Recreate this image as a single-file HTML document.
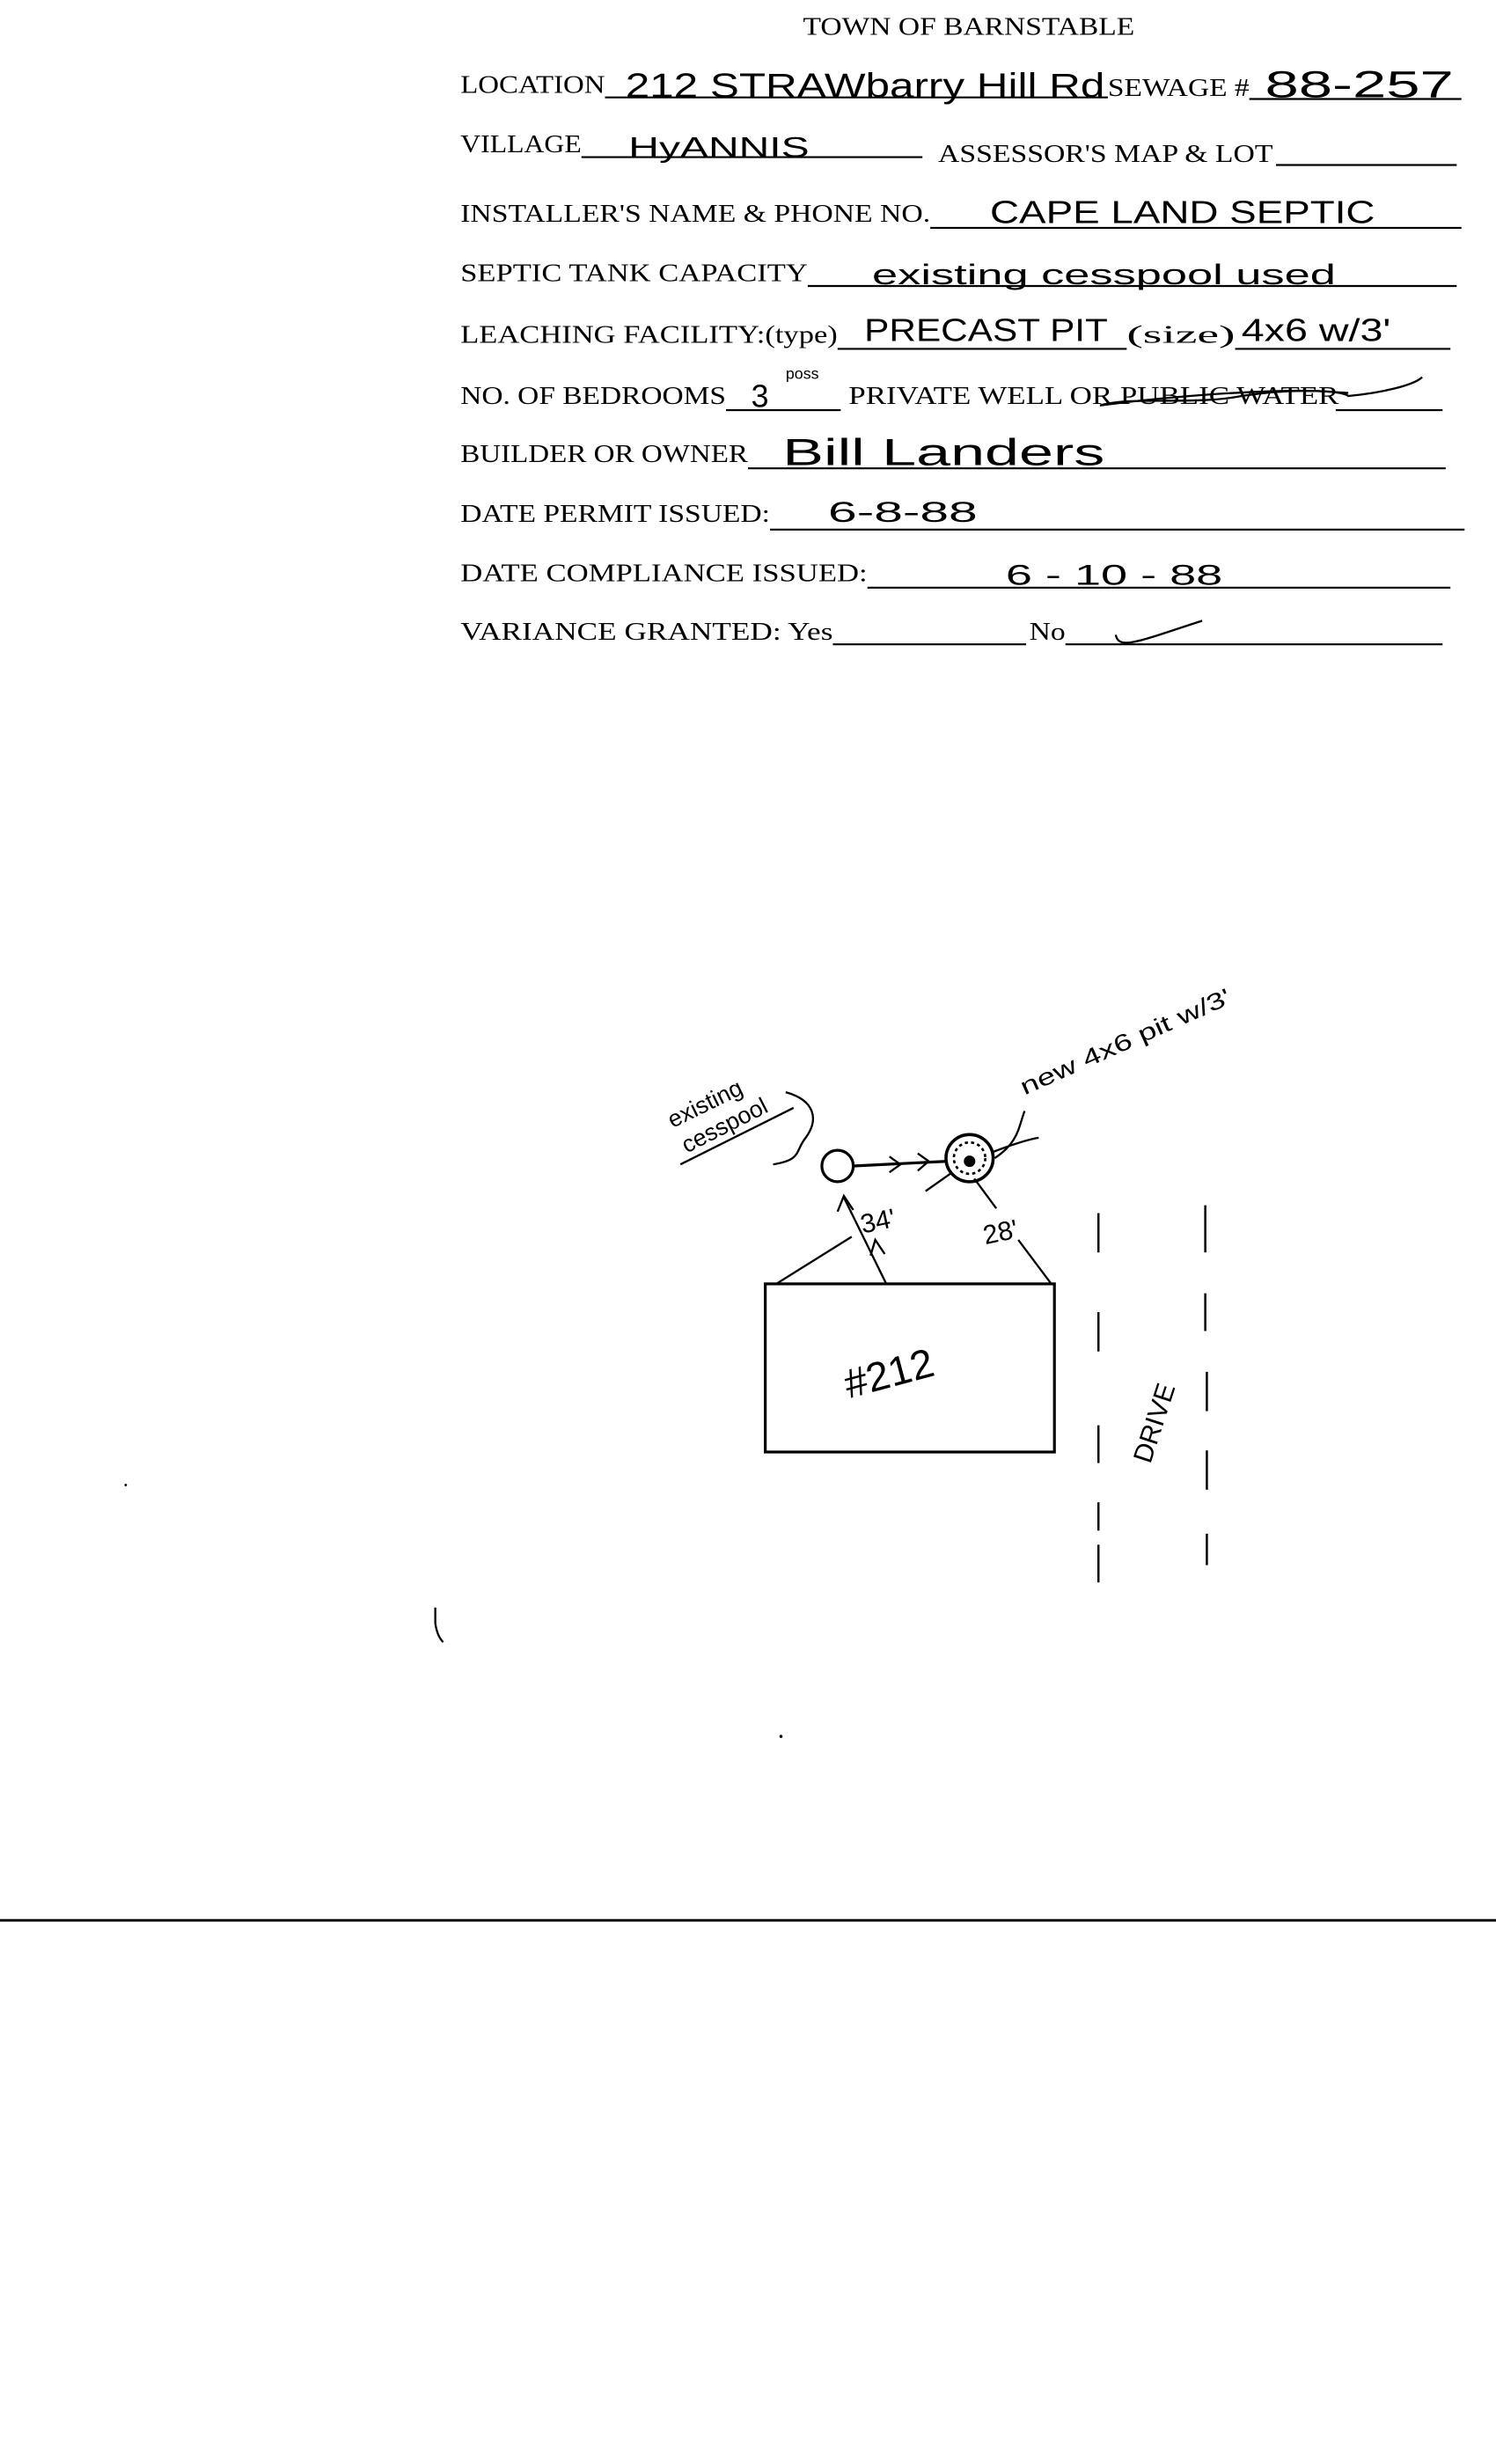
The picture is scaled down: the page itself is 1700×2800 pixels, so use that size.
<!DOCTYPE html>
<html><head><meta charset="utf-8"><style>
html,body{margin:0;padding:0;background:#fff;}
svg{display:block}
.l{font-family:"Liberation Serif",serif;font-size:16px;fill:#000}
.h{font-family:"Liberation Sans",sans-serif;font-weight:300;fill:#000;font-size:17px}
</style></head><body>
<svg width="1700" height="2800" viewBox="0 0 952 1568" preserveAspectRatio="none" xmlns="http://www.w3.org/2000/svg">
<g stroke="#000" stroke-width="1.2" fill="none">
<line x1="385" y1="62" x2="705" y2="62"/><line x1="795" y1="63" x2="930" y2="63"/>
<line x1="370" y1="100" x2="587" y2="100"/><line x1="812" y1="105" x2="927" y2="105"/>
<line x1="592" y1="145" x2="930" y2="145"/>
<line x1="514" y1="182" x2="927" y2="182"/>
<line x1="533" y1="222" x2="717" y2="222"/><line x1="786" y1="222" x2="923" y2="222"/>
<line x1="462" y1="261" x2="535" y2="261"/><line x1="850" y1="261" x2="918" y2="261"/>
<line x1="476" y1="298" x2="920" y2="298"/>
<line x1="490" y1="337" x2="932" y2="337"/>
<line x1="552" y1="374" x2="923" y2="374"/>
<line x1="530" y1="410" x2="653" y2="410"/><line x1="678" y1="410" x2="918" y2="410"/>
<line x1="0" y1="1222" x2="952" y2="1222" stroke-width="1.6"/>
</g>
<text class="l" x="511" y="22" textLength="211" lengthAdjust="spacingAndGlyphs">TOWN OF BARNSTABLE</text>
<text class="l" x="293" y="59" textLength="92" lengthAdjust="spacingAndGlyphs">LOCATION</text>
<text class="l" x="705" y="61" textLength="90" lengthAdjust="spacingAndGlyphs">SEWAGE #</text>
<text class="l" x="293" y="97" textLength="77" lengthAdjust="spacingAndGlyphs">VILLAGE</text>
<text class="l" x="597" y="103" textLength="213" lengthAdjust="spacingAndGlyphs">ASSESSOR'S  MAP &amp; LOT</text>
<text class="l" x="293" y="141" textLength="299" lengthAdjust="spacingAndGlyphs">INSTALLER'S NAME &amp; PHONE NO.</text>
<text class="l" x="293" y="179" textLength="221" lengthAdjust="spacingAndGlyphs">SEPTIC TANK CAPACITY</text>
<text class="l" x="293" y="218" textLength="240" lengthAdjust="spacingAndGlyphs">LEACHING FACILITY:(type)</text>
<text class="l" x="717" y="218" textLength="69" lengthAdjust="spacingAndGlyphs">(size)</text>
<text class="l" x="293" y="257" textLength="169" lengthAdjust="spacingAndGlyphs">NO. OF BEDROOMS</text>
<text class="l" x="540" y="257" textLength="312" lengthAdjust="spacingAndGlyphs">PRIVATE WELL OR PUBLIC WATER</text>
<text class="l" x="293" y="294" textLength="183" lengthAdjust="spacingAndGlyphs">BUILDER OR OWNER</text>
<text class="l" x="293" y="332" textLength="197" lengthAdjust="spacingAndGlyphs">DATE PERMIT ISSUED:</text>
<text class="l" x="293" y="370" textLength="259" lengthAdjust="spacingAndGlyphs">DATE  COMPLIANCE ISSUED:</text>
<text class="l" x="293" y="407" textLength="237" lengthAdjust="spacingAndGlyphs">VARIANCE GRANTED:  Yes</text>
<text class="l" x="655" y="407" textLength="23" lengthAdjust="spacingAndGlyphs">No</text>
<g class="h">
<text x="398" y="62" font-size="22" textLength="305" lengthAdjust="spacingAndGlyphs">212 STRAWbarry Hill Rd</text>
<text x="805" y="62" font-size="24" textLength="120" lengthAdjust="spacingAndGlyphs">88-257</text>
<text x="400" y="100" font-size="18" textLength="115" lengthAdjust="spacingAndGlyphs">HyANNIS</text>
<text x="630" y="142" font-size="20" textLength="245" lengthAdjust="spacingAndGlyphs">CAPE LAND SEPTIC</text>
<text x="555" y="181" font-size="18" textLength="295" lengthAdjust="spacingAndGlyphs">existing cesspool used</text>
<text x="550" y="217" font-size="20" textLength="155" lengthAdjust="spacingAndGlyphs">PRECAST PIT</text>
<text x="790" y="217" font-size="20" textLength="95" lengthAdjust="spacingAndGlyphs">4x6 w/3'</text>
<text x="478" y="259" font-size="20">3</text>
<text x="500" y="241" font-size="10">poss</text>
<text x="498" y="296" font-size="24" textLength="205" lengthAdjust="spacingAndGlyphs">Bill Landers</text>
<text x="527" y="332" font-size="18" textLength="95" lengthAdjust="spacingAndGlyphs">6-8-88</text>
<text x="640" y="372" font-size="18" textLength="138" lengthAdjust="spacingAndGlyphs">6 - 10 - 88</text>
</g>
<g stroke="#000" stroke-width="1.3" fill="none">
<path d="M700 258 C720 252 760 258 790 252 C830 246 850 250 858 250"/>
<path d="M700 258 C760 250 850 245 858 252 C880 250 900 245 905 240"/>
<path d="M710 404 C712 414 725 408 765 395"/>
<rect x="487" y="817" width="184" height="107" stroke-width="1.8"/>
<circle cx="533" cy="742" r="10" stroke-width="1.8"/>
<circle cx="617" cy="737" r="15" stroke-width="2"/>
<circle cx="617" cy="737" r="10" stroke-width="1.5" stroke-dasharray="2 2"/>
<circle cx="617" cy="739" r="3" fill="#000"/>
<line x1="543" y1="742" x2="603" y2="739" stroke-width="1.8"/>
<polyline points="566,736 573,741 566,746"/><polyline points="584,734 591,739 584,745"/>
<line x1="494" y1="817" x2="542" y2="787"/>
<line x1="564" y1="817" x2="537" y2="762"/>
<polyline points="533,771 537,761 543,770"/><polyline points="554,799 557,789 563,798"/>
<line x1="606" y1="746" x2="589" y2="758"/>
<line x1="620" y1="750" x2="634" y2="769"/>
<line x1="648" y1="789" x2="669" y2="817"/>
<path d="M632 733 C645 728 655 725 661 724"/>
<path d="M652 707 C648 718 648 727 633 737"/>
<path d="M500 695 C518 700 522 712 512 725 C506 733 510 738 492 741"/>
<line x1="433" y1="741" x2="505" y2="705"/>
<g stroke-width="1.4">
<line x1="699" y1="772" x2="699" y2="797"/><line x1="699" y1="835" x2="699" y2="860"/>
<line x1="699" y1="907" x2="699" y2="931"/><line x1="699" y1="956" x2="699" y2="974"/>
<line x1="699" y1="983" x2="699" y2="1007"/>
<line x1="767" y1="767" x2="767" y2="797"/><line x1="767" y1="823" x2="767" y2="847"/>
<line x1="768" y1="873" x2="768" y2="898"/><line x1="768" y1="923" x2="768" y2="948"/>
<line x1="768" y1="976" x2="768" y2="996"/>
</g>
<path d="M277 1023 L277 1033 C278 1040 280 1043 282 1045"/>
</g>
<circle cx="497" cy="1105" r="1" fill="#000"/><circle cx="80" cy="945" r="0.8" fill="#000"/>
<g class="h">
<text x="0" y="0" font-size="15" transform="translate(428,718) rotate(-26)">existing</text>
<text x="0" y="0" font-size="15" transform="translate(437,734) rotate(-27)">cesspool</text>
<text x="0" y="0" font-size="15" transform="translate(652,697) rotate(-24)" textLength="145" lengthAdjust="spacingAndGlyphs">new 4x6 pit w/3'</text>
<text x="0" y="0" font-size="17" transform="translate(549,785) rotate(-12)">34'</text>
<text x="0" y="0" font-size="17" transform="translate(627,792) rotate(-12)">28'</text>
<text x="0" y="0" font-size="26" transform="translate(540,890) rotate(-15)">#212</text>
<text x="0" y="0" font-size="17" transform="translate(732,932) rotate(-72)">DRIVE</text>
</g>
</svg>
</body></html>
